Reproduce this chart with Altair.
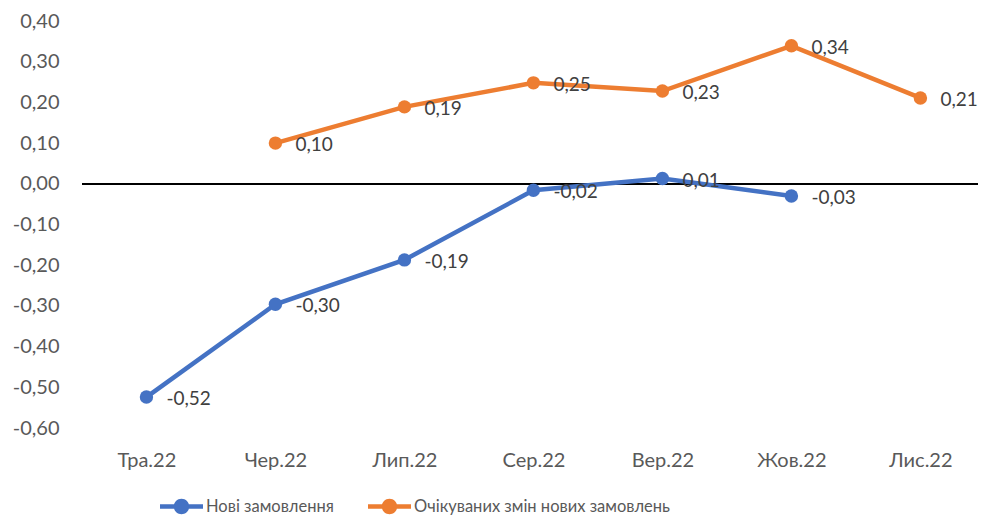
import altair as alt
import pandas as pd

months = ["Тра.22", "Чер.22", "Лип.22", "Сер.22", "Вер.22", "Жов.22", "Лис.22"]
series_new = "Нові замовлення"
series_exp = "Очікуваних змін нових замовлень"
new_orders = [-0.524, -0.296, -0.187, -0.016, 0.013, -0.030, None]
expected = [None, 0.100, 0.189, 0.248, 0.228, 0.339, 0.211]
y_ticks = [-0.6, -0.5, -0.4, -0.3, -0.2, -0.1, 0.0, 0.1, 0.2, 0.3, 0.4]

rows = []
for m, a, b in zip(months, new_orders, expected):
    if a is not None:
        rows.append({"month": m, "series": series_new, "value": a})
    if b is not None:
        rows.append({"month": m, "series": series_exp, "value": b})
df = pd.DataFrame(rows)
df["label"] = df["value"].map(lambda v: f"{v:.2f}".replace(".", ","))

FONT = "Lato"
colors = ["#4472C4", "#ED7D31"]

x_enc = alt.X("month:N", sort=months,
              scale=alt.Scale(type="point", padding=0.473, align=0.528),
              axis=alt.Axis(title=None, labelAngle=0, ticks=False, domain=False, grid=False,
                            labelPadding=22, labelFontSize=20, labelColor="#595959", labelFont=FONT))
y_enc = alt.Y("value:Q", scale=alt.Scale(domain=[-0.6, 0.4], nice=False, zero=False),
              axis=alt.Axis(title=None, values=y_ticks, domain=False, ticks=False,
                            gridColor="#D9D9D9", gridWidth=1.3, labelPadding=23,
                            labelFontSize=20, labelColor="#595959", labelFont=FONT,
                            labelExpr="(datum.value < -0.0001 ? '-' : '') + replace(format(abs(datum.value), '.2f'), '.', ',')"))

legend_path = ("M-1,-0.1 L1,-0.1 L1,0.1 L-1,0.1 Z "
               "M0.36,0 A0.36,0.36 0 1,1 -0.36,0 A0.36,0.36 0 1,1 0.36,0 Z")

color_scale = alt.Scale(domain=[series_new, series_exp], range=colors)
legend = alt.Legend(title=None, orient="none", legendX=78, legendY=464,
                    direction="horizontal", symbolType=legend_path,
                    symbolSize=1849, symbolStrokeWidth=0,
                    columnPadding=34, labelOffset=3, padding=0, labelLimit=600,
                    labelFont=FONT, labelFontSize=16.5, labelColor="#595959")

base = alt.Chart(df)

zero = alt.Chart(df).mark_rule(color="black", strokeWidth=1.8).encode(y=alt.datum(0))

lines = base.mark_line(strokeWidth=4.5).encode(
    x=x_enc, y=y_enc,
    color=alt.Color("series:N", scale=color_scale, legend=legend),
    detail="series:N",
)

points = base.mark_point(filled=True, size=180, opacity=1).encode(
    x=x_enc, y=y_enc,
    color=alt.Color("series:N", scale=color_scale, legend=legend),
)

labels = base.mark_text(align="left", baseline="middle", dx=20, dy=2, fontSize=19,
                        color="#404040", font=FONT).encode(
    x=x_enc, y=y_enc, text="label:N")

chart = alt.layer(zero, lines, points, labels).properties(
    width=896, height=407,
    autosize=alt.AutoSizeParams(type="none"),
    padding={"left": 74, "top": 13, "right": 0, "bottom": 88},
    background="white",
).configure_view(stroke=None)

chart.save("out.html", embed_options={"renderer": "svg", "actions": False})
